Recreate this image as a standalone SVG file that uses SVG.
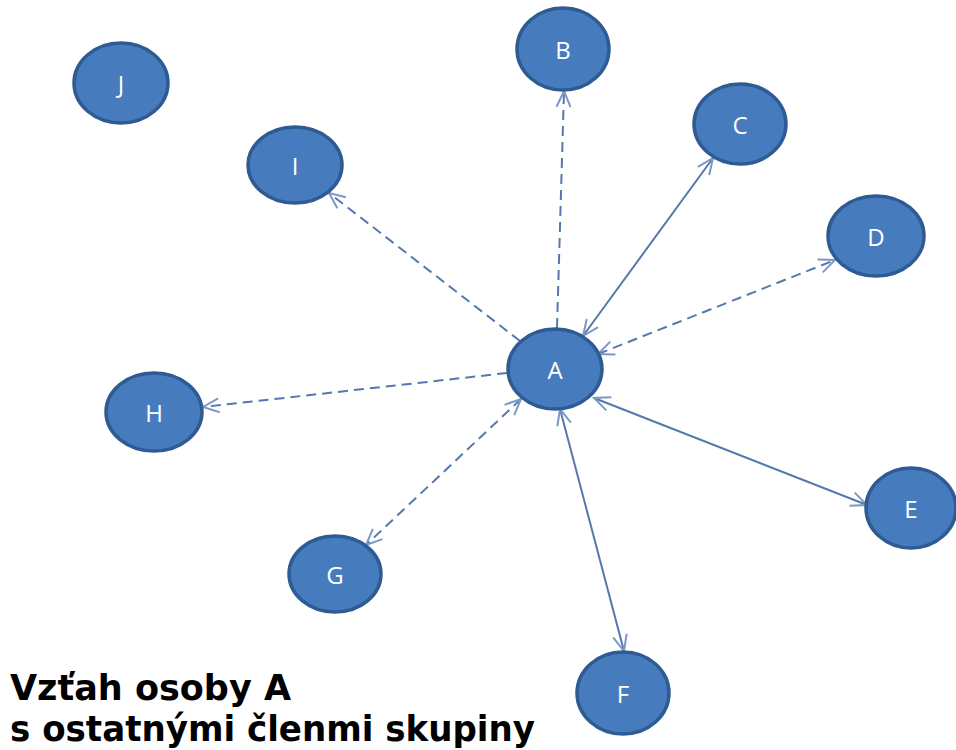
<svg xmlns="http://www.w3.org/2000/svg" width="956" height="750" viewBox="0 0 956 750">
  <style>
    .node ellipse { fill: #467bbd; stroke: #2f5b93; stroke-width: 3.5; }
    .node text { fill: #ffffff; font-family: "Open Sans", "Liberation Sans", sans-serif; font-size: 24px; text-anchor: middle; dominant-baseline: central; }
    .link { stroke: #5578ad; stroke-width: 2; fill: none; }
    .dash { stroke-dasharray: 10 6; }
    .caption { font-family: "DejaVu Sans", Verdana, sans-serif; font-weight: bold; font-size: 35px; fill: #000000; }
  </style>
  <defs>
    <!-- open chevron arrowhead, reused at either end of a link -->
    <marker id="arrow" viewBox="0 0 20 20" refX="18" refY="10" markerWidth="20" markerHeight="20" markerUnits="userSpaceOnUse" orient="auto-start-reverse">
      <path d="M2,3 L18,10 L2,17" fill="none" stroke="#7d98c4" stroke-width="2"/>
    </marker>
  </defs>

  <rect width="956" height="750" fill="#ffffff"/>

  <!-- relations of person A: solid = mutual, dashed = weaker -->
  <g id="connectors">
    <line class="link dash" x1="557" y1="328" x2="564" y2="91" marker-end="url(#arrow)"/>
    <line class="link" x1="583" y1="336" x2="713" y2="158" marker-start="url(#arrow)" marker-end="url(#arrow)"/>
    <line class="link dash" x1="598" y1="354" x2="835" y2="260" marker-start="url(#arrow)" marker-end="url(#arrow)"/>
    <line class="link dash" x1="520" y1="341" x2="329" y2="193" marker-end="url(#arrow)"/>
    <line class="link dash" x1="507" y1="373" x2="203" y2="407" marker-end="url(#arrow)"/>
    <line class="link dash" x1="521" y1="399" x2="366" y2="545" marker-start="url(#arrow)" marker-end="url(#arrow)"/>
    <line class="link" x1="560" y1="409" x2="624" y2="651" marker-start="url(#arrow)" marker-end="url(#arrow)"/>
    <line class="link" x1="594" y1="398" x2="867" y2="505" marker-start="url(#arrow)" marker-end="url(#arrow)"/>
  </g>

  <g id="node-J" class="node"><ellipse cx="121" cy="83" rx="47" ry="40"/><text x="121" y="83">J</text></g>
  <g id="node-B" class="node"><ellipse cx="563" cy="49" rx="46" ry="41"/><text x="563" y="49">B</text></g>
  <g id="node-C" class="node"><ellipse cx="740" cy="124" rx="46" ry="40"/><text x="740" y="124">C</text></g>
  <g id="node-I" class="node"><ellipse cx="295" cy="165" rx="47" ry="38"/><text x="295" y="165">I</text></g>
  <g id="node-D" class="node"><ellipse cx="876" cy="236" rx="48" ry="40"/><text x="876" y="236">D</text></g>
  <g id="node-A" class="node"><ellipse cx="555" cy="369" rx="47" ry="40"/><text x="555" y="369">A</text></g>
  <g id="node-H" class="node"><ellipse cx="154" cy="412" rx="48" ry="39"/><text x="154" y="412">H</text></g>
  <g id="node-E" class="node"><ellipse cx="911" cy="508" rx="45" ry="40"/><text x="911" y="508">E</text></g>
  <g id="node-G" class="node"><ellipse cx="335" cy="574" rx="46" ry="38"/><text x="335" y="574">G</text></g>
  <g id="node-F" class="node"><ellipse cx="623" cy="693" rx="46" ry="41"/><text x="623" y="693">F</text></g>

  <g id="caption">
    <text class="caption" x="10" y="700">Vzťah osoby A</text>
    <text class="caption" x="10" y="741" textLength="525" lengthAdjust="spacingAndGlyphs">s ostatnými členmi skupiny</text>
  </g>
</svg>
